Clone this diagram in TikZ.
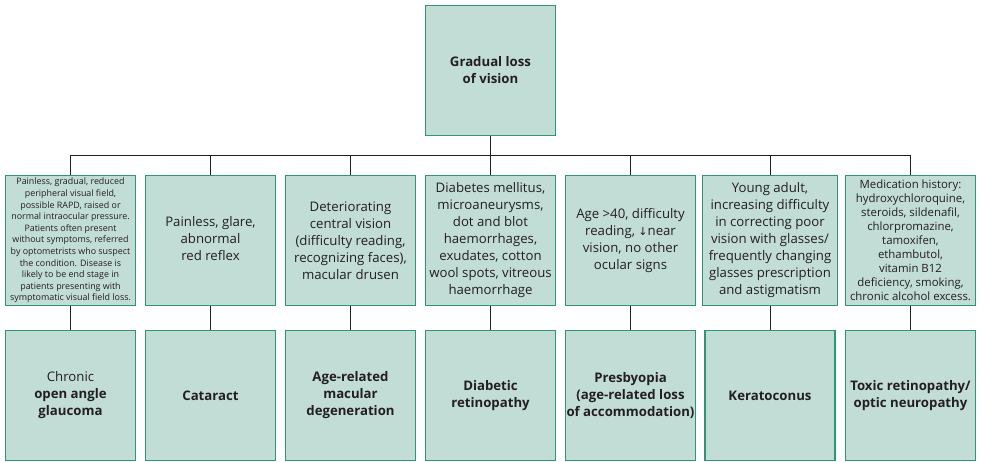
\documentclass[tikz,border=0pt]{standalone}
\usepackage{fontspec}
\setmainfont{Open Sans}
\definecolor{boxfill}{RGB}{194,221,213}
\definecolor{boxline}{RGB}{46,150,118}
\definecolor{ink}{RGB}{35,31,32}
\tikzset{
  box/.style={draw=boxline, fill=boxfill, line width=1.2pt, minimum width=130pt, minimum height=130pt,
    inner sep=1pt, align=center, text=ink, font=\fontsize{13.2}{17}\selectfont},
  small/.style={font=\fontsize{8.9}{11.6}\selectfont},
  medsmall/.style={font=\fontsize{11.4}{14}\selectfont},
  ttl/.style={font=\fontsize{13.2}{17}\selectfont\bfseries},
  link/.style={draw=ink, line width=0.9pt}
}
\begin{document}
\begin{tikzpicture}[x=1pt,y=-1pt]
\useasboundingbox (0,0) rectangle (984,461);
\node[box,ttl] (top) at (490.5,70.5) {Gradual loss\\of vision};
% middle row
\node[box,small] (m1) at (70.5,240.5) {Painless, gradual, reduced\\peripheral visual field,\\possible RAPD, raised or\\normal intraocular pressure.\\Patients often present\\without symptoms, referred\\by optometrists who suspect\\the condition. Disease is\\likely to be end stage in\\patients presenting with\\symptomatic visual field loss.};
\node[box] (m2) at (210.5,240.5) {\raisebox{-10pt}{\begin{tabular}{@{}c@{}}Painless, glare,\\abnormal\\red reflex\end{tabular}}};
\node[box] (m3) at (350.5,240.5) {Deteriorating\\central vision\\(difficulty reading,\\recognizing faces),\\macular drusen};
\node[box] (m4) at (490.5,240.5) {Diabetes mellitus,\\microaneurysms,\\dot and blot\\haemorrhages,\\exudates, cotton\\wool spots, vitreous\\haemorrhage};
\node[box] (m5) at (630.5,240.5) {Age >40, difficulty\\reading, {\fontspec{DejaVu Sans}\fontsize{11}{17}\selectfont ↓}near\\vision, no other\\ocular signs};
\node[box,minimum width=135pt] (m6) at (770,240.5) {Young adult,\\increasing difficulty\\in correcting poor\\vision with glasses/\\frequently changing\\glasses prescription\\and astigmatism};
\node[box,medsmall] (m7) at (910.5,240.5) {Medication history:\\hydroxychloroquine,\\steroids, sildenafil,\\chlorpromazine,\\tamoxifen,\\ethambutol,\\vitamin B12\\deficiency, smoking,\\chronic alcohol excess.};
% bottom row
\node[box] (b1) at (70.5,395.5) {Chronic\\\textbf{open angle}\\\textbf{glaucoma}};
\node[box,ttl] (b2) at (210.5,395.5) {Cataract};
\node[box,ttl] (b3) at (350.5,395.5) {Age-related\\macular\\degeneration};
\node[box,ttl] (b4) at (490.5,395.5) {Diabetic\\retinopathy};
\node[box,ttl] (b5) at (630.5,395.5) {Presbyopia\\(age-related loss\\of accommodation)};
\node[box,ttl] (b6) at (770,395.5) {Keratoconus};
\node[box,ttl] (b7) at (910.5,395.5) {Toxic retinopathy/\\optic neuropathy};
% connectors
\coordinate (bar) at (490.5,155.5);
\draw[link] (top.south) -- (m4.north);
\draw[link] (m1.north) |- (bar) -| (m7.north);
\foreach \i in {2,3,5,6}{\draw[link] (m\i.north) -- (m\i.north |- bar);}
\foreach \i in {1,...,7}{\draw[link] (m\i.south) -- (b\i.north);}
\end{tikzpicture}
\end{document}
